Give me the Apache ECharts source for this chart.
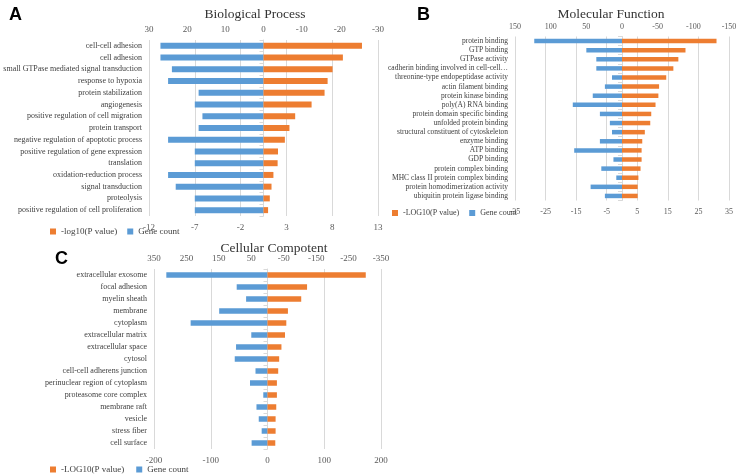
<!DOCTYPE html>
<html>
<head>
<meta charset="utf-8">
<script src="https://cdn.jsdelivr.net/npm/echarts@6/dist/echarts.min.js"></script>
<style>
  html, body { margin: 0; padding: 0; background: #fff; }
  #main { width: 738px; height: 474px; }
</style>
</head>
<body>
<div id="main"></div>
<script>
const bpTerms = ["cell-cell adhesion", "cell adhesion", "small GTPase mediated signal transduction", "response to hypoxia",
  "protein stabilization", "angiogenesis", "positive regulation of cell migration", "protein transport",
  "negative regulation of apoptotic process", "positive regulation of gene expression", "translation",
  "oxidation-reduction process", "signal transduction", "proteolysis", "positive regulation of cell proliferation"];
const bpLogP = [25.8, 20.8, 18.1, 16.8, 16.0, 12.6, 8.3, 6.8, 5.6, 3.8, 3.7, 2.6, 2.1, 1.65, 1.2];
const bpCount = [27, 27, 24, 25, 17, 18, 16, 17, 25, 18, 18, 25, 23, 18, 18];

const mfTerms = ["protein binding", "GTP binding", "GTPase activity", "cadherin binding involved in cell-cell…",
  "threonine-type endopeptidase activity", "actin filament binding", "protein kinase binding", "poly(A) RNA binding",
  "protein domain specific binding", "unfolded protein binding", "structural constituent of cytoskeleton",
  "enzyme binding", "ATP binding", "GDP binding", "protein complex binding", "MHC class II protein complex binding",
  "protein homodimerization activity", "ubiquitin protein ligase binding"];
const mfLogP = [132.5, 89, 79, 72, 62, 52, 51, 47, 41, 39.6, 32, 28.4, 27.5, 27.5, 26, 23, 22, 22];
const mfCount = [123, 50, 36, 36, 14, 24, 41, 69, 31, 17, 14, 31, 67, 12, 29, 8, 44, 24];

const ccTerms = ["extracellular exosome", "focal adhesion", "myelin sheath", "membrane", "cytoplasm",
  "extracellular matrix", "extracellular space", "cytosol", "cell-cell adherens junction",
  "perinuclear region of cytoplasm", "proteasome core complex", "membrane raft", "vesicle", "stress fiber", "cell surface"];
const ccLogP = [303, 122, 104, 63, 58, 54, 43, 36, 33, 29, 29, 27, 25, 25, 24];
const ccCount = [312, 95, 66, 149, 237, 50, 97, 101, 37, 54, 13, 34, 27, 18, 49];

const BLUE = "#5B9BD5";
const ORANGE = "#ED7D31";
const serif = "'Liberation Serif', 'Times New Roman', serif";

const chart = echarts.init(document.getElementById("main"));

// one panel = grid + top count axis + hidden P axis + bottom axis + category axis
const panels = [
  { terms: bpTerms, logp: bpLogP, count: bpCount, pName: "-log10(P value)",
    grid: { left: 149, top: 40, width: 229, height: 176 }, top: [-30, 30, 10], bottom: [-12, 13, 5],
    catSize: 8, tickSize: 9, barW: 6 },
  { terms: mfTerms, logp: mfLogP, count: mfCount, pName: "-LOG10(P value)",
    grid: { left: 515, top: 36.5, width: 214, height: 164 }, top: [-150, 150, 50], bottom: [-35, 35, 10],
    catSize: 7.5, tickSize: 8, barW: 4.5 },
  { terms: ccTerms, logp: ccLogP, count: ccCount, pName: "-LOG10(P value)",
    grid: { left: 154, top: 269, width: 227, height: 180 }, top: [-350, 350, 100], bottom: [-200, 200, 100],
    catSize: 8, tickSize: 9, barW: 5.5 },
];

let grids = [], xAxes = [], yAxes = [], series = [];
panels.forEach((p, i) => {
  const tickLabel = { color: "#595959", fontFamily: serif, fontSize: p.tickSize };
  grids.push(Object.assign({ containLabel: false, outerBoundsMode: "none" }, p.grid));
  xAxes.push({
    gridIndex: i, type: "value", position: "top", inverse: true,
    min: p.top[0], max: p.top[1], interval: p.top[2],
    axisLine: { show: false }, axisTick: { show: false }, splitLine: { show: false },
    axisLabel: Object.assign({ margin: 6 }, tickLabel),
  });
  xAxes.push({
    gridIndex: i, type: "value", show: false, min: p.top[0], max: p.top[1],
  });
  xAxes.push({
    gridIndex: i, type: "value", position: "bottom",
    min: p.bottom[0], max: p.bottom[1], interval: p.bottom[2],
    axisLine: { show: false }, axisTick: { show: false },
    splitLine: { show: true, lineStyle: { color: "#D9D9D9", width: 1 } },
    axisLabel: Object.assign({ margin: 7 }, tickLabel),
  });
  yAxes.push({
    gridIndex: i, type: "category", data: p.terms, inverse: true,
    axisLine: { show: true, lineStyle: { color: "#D9D9D9" } },
    axisTick: { show: true, length: 4, lineStyle: { color: "#D9D9D9" } },
    axisLabel: { color: "#404040", fontFamily: serif, fontSize: p.catSize, margin: 7, interval: 0 },
  });
  series.push({
    name: "Gene count", type: "bar", xAxisIndex: i * 3, yAxisIndex: i,
    data: p.count, barWidth: p.barW, barGap: "-100%", itemStyle: { color: BLUE }, silent: true,
  });
  series.push({
    name: p.pName, type: "bar", xAxisIndex: i * 3 + 1, yAxisIndex: i,
    data: p.logp, barWidth: p.barW, barGap: "-100%", itemStyle: { color: ORANGE }, silent: true,
  });
});

const titleStyle = { fontFamily: serif, fontSize: 13.5, fontWeight: "normal", color: "#333333" };
const letterStyle = { fontFamily: "'Liberation Sans', Arial, sans-serif", fontSize: 18, fontWeight: "bold", color: "#000" };
const legendText = { fontFamily: serif, fontSize: 9, color: "#404040" };

const option = {
  animation: false,
  title: [
    { text: "Biological Process", left: 250, top: 2, textAlign: "center", textStyle: titleStyle },
    { text: "Molecular Function", left: 606, top: 2, textAlign: "center", textStyle: titleStyle },
    { text: "Cellular Compotent", left: 269, top: 236, textAlign: "center", textStyle: titleStyle },
    { text: "A", left: 4, top: 1, textStyle: letterStyle },
    { text: "B", left: 412, top: 1, textStyle: letterStyle },
    { text: "C", left: 50, top: 245, textStyle: letterStyle },
  ],
  legend: [
    { data: ["-log10(P value)", "Gene count"], left: 45, top: 222, itemWidth: 6, itemHeight: 6, itemGap: 10,
      icon: "rect", textStyle: legendText, selectedMode: false },
    { data: ["-LOG10(P value)", "Gene count"], left: 387, top: 204, itemWidth: 6, itemHeight: 6, itemGap: 10,
      icon: "rect", textStyle: Object.assign({}, legendText, { fontSize: 8 }), selectedMode: false },
    { data: ["-LOG10(P value)", "Gene count"], left: 45, top: 460, itemWidth: 6, itemHeight: 6, itemGap: 12,
      icon: "rect", textStyle: Object.assign({}, legendText, { fontSize: 9 }), selectedMode: false },
  ],
  grid: grids,
  xAxis: xAxes,
  yAxis: yAxes,
  series: series,
};

chart.setOption(option);
</script>
</body>
</html>
